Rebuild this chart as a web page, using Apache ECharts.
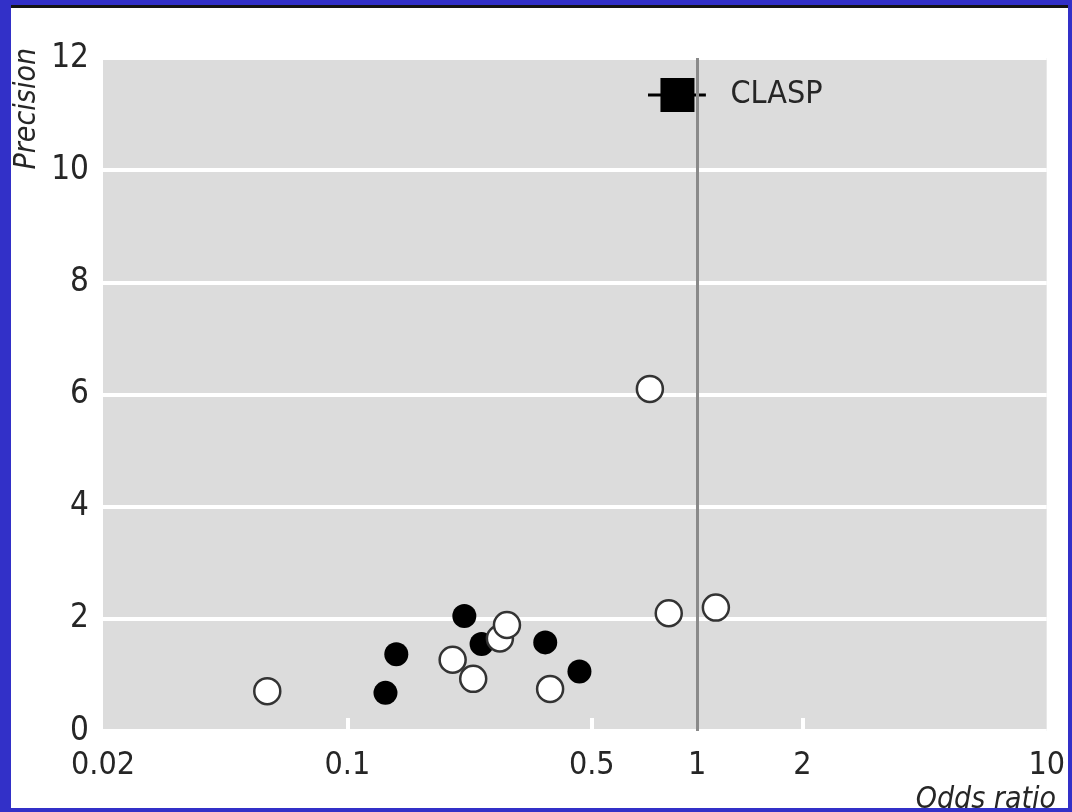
<!DOCTYPE html>
<html><head><meta charset="utf-8">
<script src="https://cdn.jsdelivr.net/npm/echarts@6/dist/echarts.min.js"></script>
<style>
html,body{margin:0;padding:0;width:1072px;height:812px;overflow:hidden;background:#3230c8;}
#topline{position:absolute;left:11px;top:5px;width:1057px;height:3px;background:#151515;}
#chart{position:absolute;left:11px;top:8px;width:1057px;height:800px;background:#fff;}
</style></head><body>
<div id="topline"></div>
<div id="chart"></div>
<script>
// Tick labels
const xTickLabels = [0.02, 0.1, 0.5, 1, 2, 10];
const xInnerTicks = [0.1, 0.5, 2];
const yTicks = [0, 2, 4, 6, 8, 10, 12];
// Open circles (odds ratio, precision)
const openOR   = [0.059, 0.200, 0.229, 0.273, 0.286, 0.380, 0.733, 0.830, 1.132];
const openPrec = [0.71, 1.27, 0.93, 1.65, 1.89, 0.75, 6.10, 2.10, 2.20];
// Filled circles
const filledOR   = [0.138, 0.1285, 0.216, 0.242, 0.368, 0.461];
const filledPrec = [1.37, 0.68, 2.05, 1.55, 1.58, 1.06];
// CLASP trial
const claspLabel = ['CLASP'];
const claspOR = [0.879];
const claspPrec = [11.34];
const claspLow = [0.724];
const claspHigh = [1.06];
const refOR = 1;

const FONT = "'Liberation Sans Narrow','DejaVu Sans Condensed','Arial Narrow','Liberation Sans',sans-serif";
const TXT = '#262626';
const lg = v => Math.log10(v);
const pts = (xs, ys) => xs.map((x, i) => [lg(x), ys[i]]);

const chart = echarts.init(document.getElementById('chart'), null, {renderer: 'canvas'});
chart.setOption({
  animation: false,
  backgroundColor: '#ffffff',
  grid: {left: 92, right: 17, top: 50, bottom: 77, show: true, backgroundColor: '#dcdcdc', borderWidth: 0},
  xAxis: {
    type: 'value', min: lg(xTickLabels[0]), max: lg(xTickLabels[xTickLabels.length - 1]),
    axisLine: {show: false}, splitLine: {show: false},
    axisTick: {show: true, inside: true, length: 13, customValues: xInnerTicks.map(lg),
               lineStyle: {color: '#ffffff', width: 4}},
    axisLabel: {customValues: xTickLabels.map(lg), margin: 19, fontSize: 32, color: TXT, fontFamily: FONT,
                formatter: v => String(+Math.pow(10, v).toPrecision(2))}
  },
  yAxis: {
    type: 'value', min: yTicks[0], max: yTicks[yTicks.length - 1], interval: 2,
    axisLine: {show: false}, axisTick: {show: false},
    splitLine: {show: true, lineStyle: {color: '#ffffff', width: 4}},
    axisLabel: {margin: 14, fontSize: 33, color: TXT, fontFamily: FONT}
  },
  graphic: [
    {type: 'text', x: 16, y: 40, rotation: Math.PI / 2, silent: true,
     style: {text: 'Precision', align: 'right', verticalAlign: 'middle', fontSize: 30, fontStyle: 'italic',
             fontFamily: FONT, fill: TXT}},
    {type: 'text', x: 1045, y: 792, silent: true,
     style: {text: 'Odds ratio', align: 'right', verticalAlign: 'middle', fontSize: 30, fontStyle: 'italic',
             fontFamily: FONT, fill: TXT}}
  ],
  series: [
    {type: 'line', data: [], silent: true, z: 1,
     markLine: {silent: true, symbol: ['none', 'none'], label: {show: false},
                lineStyle: {color: '#8a8a8a', width: 3, type: 'solid', opacity: 1},
                data: [{xAxis: lg(refOR)}]}},
    {type: 'line', silent: true, z: 3, symbol: 'none',
     lineStyle: {color: '#000000', width: 3, opacity: 1},
     data: [[lg(claspLow[0]), claspPrec[0]], [lg(claspHigh[0]), claspPrec[0]]]},
    {type: 'scatter', silent: true, z: 4, symbol: 'rect', symbolSize: 34,
     itemStyle: {color: '#000000', opacity: 1},
     label: {show: true, position: 'right', distance: 36, formatter: () => claspLabel[0],
             fontSize: 32, color: TXT, fontFamily: FONT, opacity: 1},
     data: pts(claspOR, claspPrec)},
    {type: 'scatter', silent: true, z: 4, symbol: 'circle', symbolSize: 24,
     itemStyle: {color: '#000000', opacity: 1},
     data: pts(filledOR, filledPrec)},
    {type: 'scatter', silent: true, z: 5, symbol: 'circle', symbolSize: 26,
     itemStyle: {color: '#ffffff', borderColor: '#333333', borderWidth: 2.5, opacity: 1},
     data: pts(openOR, openPrec)}
  ]
});
</script>
</body></html>
